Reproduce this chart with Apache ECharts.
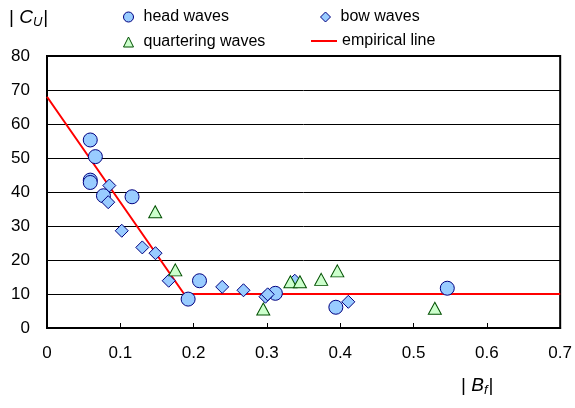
<!DOCTYPE html>
<html>
<head>
<meta charset="utf-8">
<script src="https://cdn.jsdelivr.net/npm/echarts@6/dist/echarts.min.js"></script>
<style>
  html, body { margin: 0; padding: 0; background: #fff; }
  #chart { width: 575px; height: 408px; }
</style>
</head>
<body>
<div id="chart"></div>
<script>
// head waves (circles)
const headX = [0.059, 0.066, 0.059, 0.059, 0.077, 0.116, 0.208, 0.1925, 0.3115, 0.394, 0.546];
const headY = [55.3, 50.4, 43.5, 42.8, 38.9, 38.6, 13.9, 8.5, 10.2, 6.1, 11.7];
// bow waves (diamonds)
const bowX = [0.085, 0.0835, 0.102, 0.130, 0.148, 0.166, 0.239, 0.268, 0.298, 0.301, 0.338, 0.411];
const bowY = [41.9, 37.0, 28.6, 23.7, 22.0, 13.9, 12.1, 11.1, 9.2, 9.9, 13.9, 7.7];
// quartering waves (triangles)
const quartX = [0.1476, 0.175, 0.295, 0.332, 0.345, 0.374, 0.396, 0.529];
const quartY = [34.2, 17.1, 5.6, 13.6, 13.6, 14.3, 16.8, 5.8];
// empirical line
const lineX = [0, 0.187, 0.7];
const lineY = [68, 10, 10];

const seriesNames = ['head waves', 'bow waves', 'quartering waves', 'empirical line'];

const FONT = 'Liberation Sans, Arial, sans-serif';

function pairs(xs, ys) {
  return xs.map((x, i) => [x, ys[i]]);
}

const chart = echarts.init(document.getElementById('chart'));

// one legend per entry so the 2x2 layout matches
function legendAt(name, left, top, icon, pad, extra) {
  return Object.assign({
    data: [{name: name, icon: icon}],
    left: left,
    top: top,
    itemWidth: 10,
    itemHeight: 10,
    selectedMode: false,
    itemStyle: {borderWidth: 1},
    textStyle: {fontFamily: FONT, fontSize: 16, color: '#000', padding: [0, 0, 0, pad]}
  }, extra || {});
}

// axis names with italic letter and subscript
function axisName(letter, sub, left, top) {
  return {
    text: '{p|| }{c|' + letter + '}{u|' + sub + '}{p||}',
    left: left,
    top: top,
    textStyle: {
      fontWeight: 'normal',
      rich: {
        p: {fontFamily: FONT, fontSize: 19, fontWeight: 'normal', color: '#000'},
        c: {fontFamily: FONT, fontSize: 19, fontStyle: 'italic', fontWeight: 'normal', color: '#000'},
        u: {fontFamily: FONT, fontSize: 13, fontStyle: 'italic', fontWeight: 'normal', color: '#000', padding: [10, 1, 0, 0]}
      }
    }
  };
}

const option = {
  animation: false,
  backgroundColor: '#fff',
  title: [
    axisName('C', 'U', 4, 1),
    axisName('B', 'f', 456, 369)
  ],
  legend: [
    legendAt('head waves', 118, 4, 'circle', 5),
    legendAt('quartering waves', 118, 29, 'triangle', 5),
    legendAt('bow waves', 315, 4, 'diamond', 5),
    legendAt('empirical line', 306, 28, 'rect', 0, {itemWidth: 26, itemHeight: 2, itemStyle: {borderWidth: 0}})
  ],
  grid: {
    left: 47,
    right: 14,
    top: 56,
    bottom: 80,
    show: true,
    borderColor: '#000',
    borderWidth: 2,
    containLabel: false
  },
  xAxis: {
    type: 'value',
    min: 0,
    max: 0.7,
    interval: 0.1,
    axisLine: {lineStyle: {color: '#000', width: 2}},
    axisTick: {show: true, inside: true, length: 5, lineStyle: {color: '#000', width: 1}},
    axisLabel: {color: '#000', fontFamily: FONT, fontSize: 17, margin: 17},
    splitLine: {show: false}
  },
  yAxis: {
    type: 'value',
    min: 0,
    max: 80,
    interval: 10,
    axisLine: {show: true, lineStyle: {color: '#000', width: 2}},
    axisTick: {show: false},
    axisLabel: {color: '#000', fontFamily: FONT, fontSize: 17, margin: 17},
    splitLine: {show: true, lineStyle: {color: '#000', width: 1}}
  },
  series: [
    {
      name: seriesNames[3],
      type: 'line',
      data: pairs(lineX, lineY),
      symbol: 'none',
      lineStyle: {color: '#ff0000', width: 2},
      itemStyle: {color: '#ff0000'},
      z: 2
    },
    {
      name: seriesNames[0],
      type: 'scatter',
      data: pairs(headX, headY),
      symbol: 'circle',
      symbolSize: 14,
      itemStyle: {color: '#99ccff', borderColor: '#000080', borderWidth: 1, opacity: 1},
      z: 3
    },
    {
      name: seriesNames[1],
      type: 'scatter',
      data: pairs(bowX, bowY),
      symbol: 'diamond',
      symbolSize: 13,
      itemStyle: {color: '#99ccff', borderColor: '#000080', borderWidth: 1, opacity: 1},
      z: 4
    },
    {
      name: seriesNames[2],
      type: 'scatter',
      data: pairs(quartX, quartY),
      symbol: 'triangle',
      symbolSize: [13, 12],
      itemStyle: {color: '#ccffcc', borderColor: '#005000', borderWidth: 1, opacity: 1},
      z: 5
    }
  ]
};

chart.setOption(option);
</script>
</body>
</html>
